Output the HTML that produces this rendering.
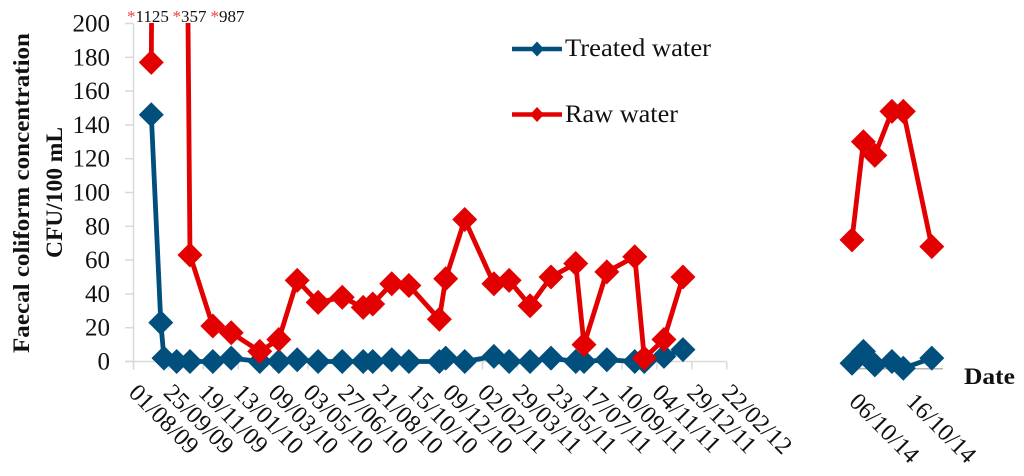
<!DOCTYPE html>
<html>
<head>
<meta charset="utf-8">
<style>
html,body{margin:0;padding:0;background:#fff;}
#chart{display:block;width:1024px;height:476px;font-family:"Liberation Serif",serif;}
</style>
</head>
<body>
<svg id="chart" xmlns="http://www.w3.org/2000/svg" width="1024" height="476" viewBox="0 0 1024 476">
  <defs>
    <clipPath id="plot-clip"><rect x="120" y="23" width="904" height="453"/></clipPath>
  </defs>
  <g id="axes"></g>
  <g id="series" clip-path="url(#plot-clip)"></g>
  <text transform="translate(29,353) rotate(-90)" font-size="23" font-weight="bold" fill="#111" textLength="320" lengthAdjust="spacingAndGlyphs">Faecal coliform concentration</text>
  <text transform="translate(62,258) rotate(-90)" font-size="23" font-weight="bold" fill="#111" textLength="131" lengthAdjust="spacingAndGlyphs">CFU/100 mL</text>
  <text x="964" y="384" font-size="23" font-weight="bold" fill="#111" textLength="51" lengthAdjust="spacingAndGlyphs">Date</text>
  <g font-size="17" fill="#111">
    <text x="127" y="22"><tspan fill="#f04040">*</tspan>1125</text>
    <text x="172.5" y="22"><tspan fill="#f04040">*</tspan>357</text>
    <text x="210.5" y="22"><tspan fill="#f04040">*</tspan>987</text>
  </g>
  <g>
    <g>
      <line x1="512" y1="49" x2="562" y2="49" stroke="#004f7c" stroke-width="4.5"/>
      <polygon points="537,41.5 544,49 537,56.5 530,49" fill="#004f7c"/>
      <text x="565" y="56" font-size="25" fill="#111" textLength="146" lengthAdjust="spacingAndGlyphs">Treated water</text>
    </g>
    <g>
      <line x1="512" y1="114.5" x2="562" y2="114.5" stroke="#e30000" stroke-width="4.5"/>
      <polygon points="537,107 544,114.5 537,122 530,114.5" fill="#e30000"/>
      <text x="565" y="122" font-size="25" fill="#111" textLength="113" lengthAdjust="spacingAndGlyphs">Raw water</text>
    </g>
  </g>
</svg>
<script>
// Period 1: days since 01/08/09
const daysA = [28,43,48,68,89,125,154,199,229,258,291,329,362,377,407,434,482,492,522,568,592,625,658,697,710,746,790,805,836,866];
const treatedA = [146,23,2,0,0,0,2,0,0,1,0,0,0,0,1,0,0,2,0,3,0,0,2,0,0,1,0,0,3,7];
const rawA = [177,1125,357,987,63,21,17,6,13,48,35,38,32,34,46,45,25,49,84,46,48,33,50,58,10,53,62,2,13,50];
// Period 2: days since 06/10/14
const daysB = [0,2,4,7,9,14];
const treatedB = [-1,6,-2,0,-4,2];
const rawB = [72,130,122,148,148,68];
// Axis labels
const yTicks = [0,20,40,60,80,100,120,140,160,180,200];
const xLabelsA = ["01/08/09","25/09/09","19/11/09","13/01/10","09/03/10","03/05/10","27/06/10","21/08/10","15/10/10","09/12/10","02/02/11","29/03/11","23/05/11","17/07/11","10/09/11","04/11/11","29/12/11","22/02/12"];
const xLabelsB = ["06/10/14","16/10/14"];
const xTickStepDays = 55;
const xTickStepDaysB = 10;

const NS = "http://www.w3.org/2000/svg";
const axes = document.getElementById("axes");
const series = document.getElementById("series");
const yScale = v => 361.5 - 1.69 * v;
const xScaleA = d => 133.5 + 0.6345 * d;
const xScaleB = d => 852 + 5.7 * d;
const AXIS = "#d9d9d9";

function make(tag, parent, attrs) {
  const el = document.createElementNS(NS, tag);
  for (const k in attrs) el.setAttribute(k, attrs[k]);
  parent.appendChild(el);
  return el;
}

// y axis
const yAxisLine = make("line", axes, {x1: 133.5, x2: 133.5, y1: yScale(200), y2: 369.5, stroke: AXIS, "stroke-width": 1.5});


yTicks.forEach(t => {
  const tick = make("line", axes, {x1: 125, x2: 133.5, y1: yScale(t), y2: yScale(t), stroke: AXIS, "stroke-width": 1.5});
  
  
  const label = make("text", axes, {x: 110, y: yScale(t) + 8, "text-anchor": "end", "font-size": 25, fill: "#111"});
  
  
  label.textContent = t;
});

// x axis, period 1
const xAxisLine = make("line", axes, {x1: 125, x2: xScaleA(xTickStepDays * (xLabelsA.length - 1)), y1: yScale(0), y2: yScale(0), stroke: AXIS, "stroke-width": 1.5});


xLabelsA.forEach((s, i) => {
  const x = xScaleA(i * xTickStepDays);
  const tick = make("line", axes, {x1: x, x2: x, y1: yScale(0), y2: 369.5, stroke: AXIS, "stroke-width": 1.5});
  
  
  const label = make("text", axes, {transform: "translate(" + (x - 6) + ",394) rotate(45)", "font-size": 24.5, fill: "#111"});
  
  
  label.textContent = s;
});

// x axis, period 2
const baselineB = yScale(-4.3);
const xAxisLineB = make("line", axes, {x1: xScaleB(0), x2: 943, y1: baselineB, y2: baselineB, stroke: "#b5b5b5", "stroke-width": 1.5});


xLabelsB.forEach((s, i) => {
  const x = xScaleB(i * xTickStepDaysB);
  const label = make("text", axes, {transform: "translate(" + (x - 4) + ",403) rotate(45)", "font-size": 24.5, fill: "#111"});
  
  
  label.textContent = s;
});

function drawSeries(days, values, xScale, color, name) {
  const pts = days.map((d, i) => xScale(d).toFixed(1) + "," + yScale(values[i]).toFixed(1)).join(" ");
  const line = make("polyline", series, {points: pts, fill: "none", stroke: color, "stroke-width": 4.8, "stroke-linejoin": "round"});
  
  
  days.forEach((d, i) => {
    if (values[i] > 200) return;
    const x = xScale(d), y = yScale(values[i]), r = 12.5;
    const m = make("polygon", series, {points: [x, y - r, x + r, y, x, y + r, x - r, y].join(","), fill: color});
    
    
  });
}

drawSeries(daysA, treatedA, xScaleA, "#004f7c", "treated-water");
drawSeries(daysB, treatedB, xScaleB, "#004f7c", "treated-water-2014");
drawSeries(daysA, rawA, xScaleA, "#e30000", "raw-water");
drawSeries(daysB, rawB, xScaleB, "#e30000", "raw-water-2014");
</script>
</body>
</html>
